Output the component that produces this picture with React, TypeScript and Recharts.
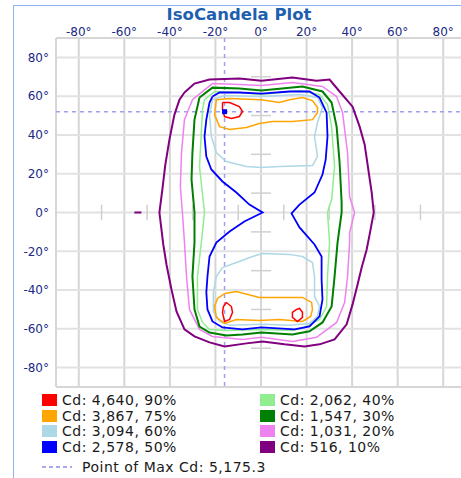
import React from 'react';
import { ScatterChart, Scatter, XAxis, YAxis, CartesianGrid, ReferenceLine } from 'recharts';

type P = [number, number];

const xTicks = [-80, -60, -40, -20, 0, 20, 40, 60, 80];
const yTicks = [80, 60, 40, 20, 0, -20, -40, -60, -80];
const minorTicks = [-70, -50, -30, -10, 10, 30, 50, 70];
const maxPoint = [{ x: -16, y: 52 }];
const maxCdText = 'Point of Max Cd: 5,175.3';

// contour loops, [horizontal deg, vertical deg]
const purple10: P[] = [
  [-33.6, 61.9], [-29.2, 66.5], [-22.6, 68.6], [-9.5, 69.1], [0.2, 68], [13.8, 69.6], [24.4, 68], [30.1, 68.6],
  [34.5, 62.4], [40.2, 54.6], [43.3, 44.3], [45.5, 35.1], [46.8, 24.7], [48.6, 10.3], [49.5, 0], [47.7, -11.3],
  [46.4, -19.1], [44.2, -28.4], [42.4, -37.1], [40.2, -47.4], [37.6, -57.7], [32.3, -65.5], [25.7, -68],
  [19.1, -69.1], [10.3, -68], [0.7, -66.5], [-6.4, -67.5], [-16, -69.1], [-22.6, -67], [-29.2, -63.9],
  [-33.6, -60.3], [-37.1, -51], [-39.3, -39.7], [-41.5, -26.8], [-42.9, -16.5], [-44.6, 0], [-43.3, 11.9],
  [-42, 24.7], [-40.2, 37.6], [-38, 50.5], [-35.8, 58.2],
];
const purpleDash: P[] = [[-55.6, 0], [-52.5, 0]];

const violet20: P[] = [
  [-30.1, 58.2], [-21.3, 66.5], [-9.5, 66], [0.2, 65.5], [13.8, 67], [27, 65], [33.2, 59.8], [35.8, 51.5],
  [38, 30.9], [38.9, 8.2], [41.1, 0], [38.9, -10.3], [38.9, -15.5], [38, -33], [36.7, -46.4], [33.2, -56.7],
  [24.4, -64.4], [13.8, -66.5], [0.2, -64.4], [-8.1, -65.5], [-21.3, -63.9], [-27, -60.3], [-31.4, -50],
  [-32.7, -33], [-33.6, -15.5], [-34.5, 0], [-35.4, 13.4], [-34.9, 30.9], [-33.6, 47.9],
];

const green30: P[] = [
  [-27, 59.3], [-21.3, 64.4], [-9.5, 63.9], [0.2, 62.9], [18.2, 65], [27, 62.4], [31, 56.7], [33.2, 44.3],
  [34.5, 25.8], [35.4, 5.2], [35.4, 0], [33.6, -15.5], [32.3, -33], [31, -48.5], [27, -56.7], [21.3, -61.3],
  [13.8, -62.9], [0.2, -61.9], [-8.1, -62.9], [-15.2, -63.4], [-22.6, -61.9], [-27, -58.8], [-29.2, -50],
  [-30.1, -33], [-29.2, -15.5], [-29.2, 0], [-30.5, 17], [-30.1, 30.9], [-29.2, 47.9],
];

const lightGreen40: P[] = [
  [-24.8, 58.2], [-20.4, 62.4], [-9.5, 61.9], [0.2, 60.8], [16.9, 62.9], [25.7, 60.8], [29.2, 55.7], [31, 44.3],
  [32.3, 23.7], [31, 6.7], [29.2, 0], [30.1, -15.5], [29.2, -33], [28.8, -48.5], [25.7, -55.2], [19.1, -59.3],
  [13.8, -60.8], [0.2, -60.3], [-15.2, -60.8], [-22.6, -60.3], [-25.7, -56.7], [-27.9, -50], [-27.9, -33],
  [-26.2, -15.5], [-24.8, 0], [-27, 23.7], [-26.2, 41.2], [-25.7, 53.1],
];

const blue50: P[] = [
  [-21.3, 59.8], [-18.2, 61.9], [-9.5, 61.9], [0.2, 61.3], [12.5, 62.4], [21.3, 62.4], [25.7, 59.3], [28.8, 51.5],
  [29.2, 39.2], [28.4, 27.3], [27, 19.6], [23.5, 10.3], [16.9, 4.1], [13.4, -0.5], [16.9, -7.7], [23.5, -16.5],
  [26.6, -22.7], [26.6, -34.5], [27, -44.8], [25.7, -53.6], [21.3, -58.8], [14.7, -60.3], [0.2, -59.3],
  [-8.1, -60.3], [-16.9, -59.3], [-21.3, -56.2], [-23.5, -50], [-24, -41.2], [-23.5, -33], [-22.6, -22.7],
  [-19.6, -15.5], [-13.8, -9.8], [-7.3, -4.6], [0.7, 0], [-5.1, 4.1], [-10.8, 10.3], [-16.9, 16], [-21.8, 22.2],
  [-24, 28.9], [-24.8, 39.2], [-24, 47.9], [-22.6, 56.7],
];

const lightBlueTop: P[] = [
  [-21.3, 58.2], [-16, 60.3], [0.2, 59.8], [16.9, 60.8], [24.8, 59.3], [27, 54.1], [24.8, 46.4], [23.5, 39.2],
  [24.8, 28.9], [22.6, 24.2], [8.1, 23.7], [0.2, 23.2], [-6.4, 23.7], [-15.2, 26.3], [-19.6, 30.9], [-21.8, 39.2],
  [-22.6, 50.5],
];
const lightBlueBottom: P[] = [
  [0.7, -21.1], [12.5, -21.6], [18.2, -22.7], [22.6, -25.8], [23.5, -33], [23.5, -43.3], [25.7, -48.5],
  [24.8, -53.6], [21.3, -57.2], [12.5, -58.2], [0.2, -57.7], [-13.8, -58.2], [-18.2, -56.2], [-20.9, -51],
  [-20.9, -41.2], [-19.6, -33], [-16.9, -28.4], [-10.8, -25.8], [-3.7, -22.7],
];

const orangeTop: P[] = [
  [-19.6, 58.2], [-13.8, 58.8], [0.2, 58.2], [8.1, 56.7], [12.5, 58.2], [18.2, 59.3], [22.6, 57.7], [24.8, 54.1],
  [24.8, 51.5], [22.6, 47.9], [13.8, 46.9], [5.1, 46.9], [-0.7, 45.9], [-6.4, 43.8], [-13.8, 42.8], [-18.2, 44.3],
  [-20.4, 50.5],
];
const orangeBottom: P[] = [
  [-16, -41.8], [-10.8, -40.7], [-0.7, -43.8], [8.1, -43.8], [18.2, -43.8], [22.2, -46.4], [22.6, -50],
  [21.8, -53.6], [18.2, -56.2], [8.1, -55.2], [-0.7, -55.7], [-10.8, -55.2], [-16, -57.2], [-19.6, -54.1],
  [-20.4, -48.5], [-19.1, -44.3],
];

const redTop: P[] = [
  [-16.9, 56.7], [-13.8, 56.7], [-9.5, 54.6], [-8.1, 52.1], [-9.5, 49.5], [-13, 48.5], [-16, 49.5], [-16.9, 53.1],
];
const redBottomLeft: P[] = [
  [-15.2, -46.4], [-13, -48.5], [-12.5, -51.5], [-13.8, -55.2], [-16, -56.2], [-16.9, -51.5], [-16.5, -48.5],
];
const redBottomRight: P[] = [
  [15.6, -50], [16.9, -49.5], [18.2, -51.5], [18.2, -54.1], [16, -56.2], [13.8, -54.1], [13.8, -51.5],
];

const legendLabels = [
  'Cd: 4,640, 90%', 'Cd: 3,867, 75%', 'Cd: 3,094, 60%', 'Cd: 2,578, 50%',
  'Cd: 2,062, 40%', 'Cd: 1,547, 30%', 'Cd: 1,031, 20%', 'Cd: 516, 10%',
];
const legendColors = ['#ff0000', '#ffa500', '#add8e6', '#0000ff', '#90ee90', '#008000', '#ee82ee', '#800080'];

const closed = (pts: P[]) => [...pts, pts[0]].map(([x, y]) => ({ x, y }));
const open = (pts: P[]) => pts.map(([x, y]) => ({ x, y }));

const series = [
  { key: 'p10', data: closed(purple10), color: '#800080', w: 2 },
  { key: 'p10b', data: open(purpleDash), color: '#800080', w: 2 },
  { key: 'v20', data: closed(violet20), color: '#ee82ee', w: 1.5 },
  { key: 'g30', data: closed(green30), color: '#008000', w: 2 },
  { key: 'lg40', data: closed(lightGreen40), color: '#90ee90', w: 1.5 },
  { key: 'lb60a', data: closed(lightBlueTop), color: '#add8e6', w: 1.5 },
  { key: 'lb60b', data: closed(lightBlueBottom), color: '#add8e6', w: 1.5 },
  { key: 'b50', data: closed(blue50), color: '#0000ff', w: 1.8 },
  { key: 'o75a', data: closed(orangeTop), color: '#ffa500', w: 1.5 },
  { key: 'o75b', data: closed(orangeBottom), color: '#ffa500', w: 1.5 },
  { key: 'r90a', data: closed(redTop), color: '#ff0000', w: 1.5 },
  { key: 'r90b', data: closed(redBottomLeft), color: '#ff0000', w: 1.5 },
  { key: 'r90c', data: closed(redBottomRight), color: '#ff0000', w: 1.5 },
];

const font = '"DejaVu Sans", Verdana, sans-serif';
const tickStyle = { fontSize: 12, fill: '#1c2a86', fontFamily: font };

const App = () => {
  return (
    <div style={{ position: 'absolute', left: 0, top: 0, width: 470, height: 478, background: '#fff', overflow: 'hidden', fontFamily: font }}>
      <div style={{ position: 'absolute', left: 13, top: 5, width: 500, height: 500, border: '1px solid #8db2f0' }} />
      <div style={{ position: 'absolute', left: 0, top: 5, width: 478, textAlign: 'center', fontSize: 16.5, fontWeight: 'bold', color: '#1f5fb0' }}>
        IsoCandela Plot
      </div>
      <div style={{ position: 'absolute', left: 0, top: 0 }}>
        <ScatterChart width={470} height={395} margin={{ top: 8, right: 4, bottom: 8, left: 8 }}>
          <CartesianGrid horizontal={false} stroke="#d6d6d6" strokeWidth={2} />
          <CartesianGrid vertical={false} stroke="#e2e2e2" strokeWidth={2} />
          <XAxis type="number" dataKey="x" orientation="top" domain={[-90, 90]} ticks={xTicks} height={30}
            axisLine={false} tickLine={false} tickSize={0} tickMargin={2} tick={tickStyle}
            tickFormatter={(v) => `${v}°`} interval={0} />
          <YAxis type="number" dataKey="y" domain={[-90, 90]} ticks={yTicks} width={48}
            axisLine={false} tickLine={false} tickSize={0} tickMargin={7} tick={tickStyle}
            tickFormatter={(v) => `${v}°`} interval={0} />
          <ReferenceLine x={-90} stroke="#d6d6d6" strokeWidth={2} />
          <ReferenceLine y={90} stroke="#d6d6d6" strokeWidth={2} />
          <ReferenceLine y={-90} stroke="#d6d6d6" strokeWidth={2} />
          {minorTicks.map((t) => (
            <ReferenceLine key={`mx${t}`} segment={[{ x: t, y: -4 }, { x: t, y: 4 }]} stroke="#d0d0d0" strokeWidth={1.5} />
          ))}
          {minorTicks.map((t) => (
            <ReferenceLine key={`my${t}`} segment={[{ x: -4.4, y: t }, { x: 4.4, y: t }]} stroke="#d0d0d0" strokeWidth={1.5} />
          ))}
          <ReferenceLine x={maxPoint[0].x} stroke="#a0a0f0" strokeDasharray="4 4" strokeWidth={1.5} />
          <ReferenceLine y={maxPoint[0].y} stroke="#a0a0f0" strokeDasharray="4 4" strokeWidth={1.5} />
          {series.map((s) => (
            <Scatter key={s.key} data={s.data} line={{ stroke: s.color, strokeWidth: s.w }} lineType="joint"
              shape={() => <g />} isAnimationActive={false} />
          ))}
          <Scatter data={maxPoint} fill="#0000ff" isAnimationActive={false}
            shape={(p: any) => <rect x={p.cx - 2.5} y={p.cy - 2.5} width={5} height={5} fill="#0000ff" />} />
        </ScatterChart>
      </div>
      {legendLabels.map((label, i) => {
        const col = i < 4 ? 0 : 1;
        const row = i % 4;
        return (
          <div key={label} style={{ position: 'absolute', left: col === 0 ? 42 : 260, top: 392 + row * 15.5, height: 16, display: 'flex', alignItems: 'center' }}>
            <div style={{ width: 15, height: 12, background: legendColors[i], marginRight: 5 }} />
            <span style={{ fontSize: 14, letterSpacing: 0.5, color: '#1a1a1a' }}>{label}</span>
          </div>
        );
      })}
      <div style={{ position: 'absolute', left: 42, top: 459, height: 16, display: 'flex', alignItems: 'center' }}>
        <svg width={34} height={4} style={{ marginRight: 6 }}>
          <line x1={0} y1={2} x2={30} y2={2} stroke="#8c8cf0" strokeWidth={1.5} strokeDasharray="4 3" />
        </svg>
        <span style={{ fontSize: 14, letterSpacing: 0.5, color: '#1a1a1a' }}>{maxCdText}</span>
      </div>
    </div>
  );
};

export default App;
